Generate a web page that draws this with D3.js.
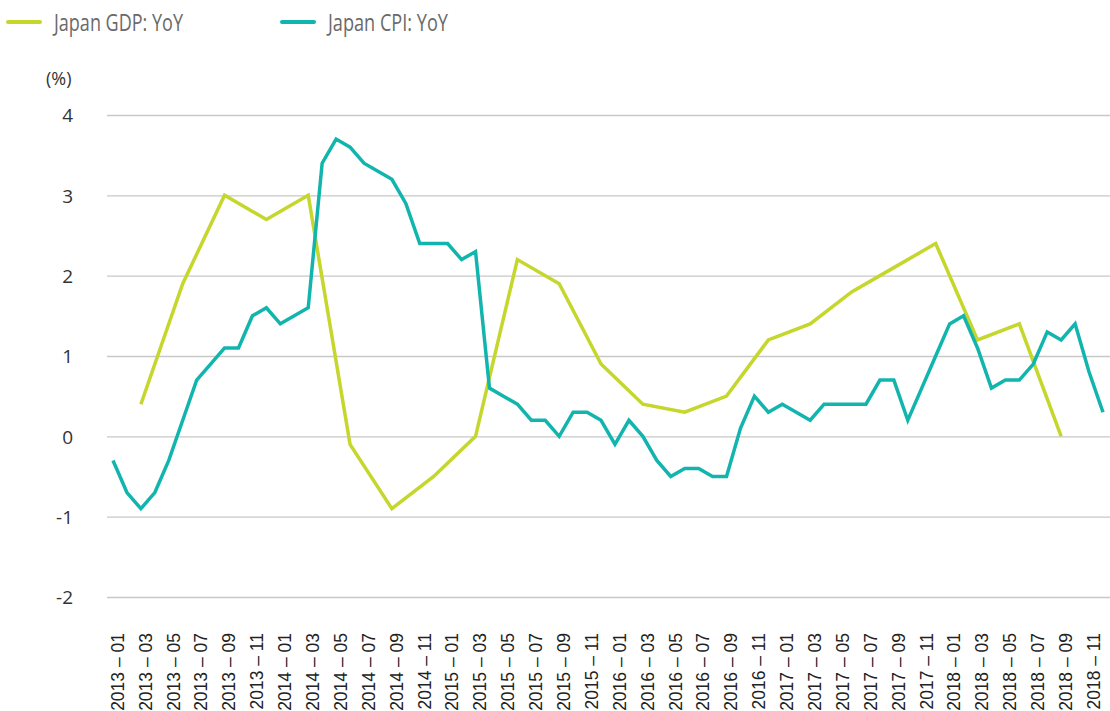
<!DOCTYPE html>
<html lang="en">
<head>
<meta charset="UTF-8">
<script src="https://d3js.org/d3.v7.min.js"></script>
<style>
body { margin:0; background:#fff; }
text { font-family: "Open Sans", sans-serif; }
</style>
<title>Japan GDP and CPI</title>
</head>
<body>
<script>
// monthly categories 2013-01 .. 2018-12
var years = [2013, 2014, 2015, 2016, 2017, 2018];
var months = [];
years.forEach(function(y) {
  for (var m = 1; m <= 12; m++) months.push(y + "-" + (m < 10 ? "0" + m : m));
});

// Japan CPI: YoY (%), monthly
var cpiValues = [
  -0.3, -0.7, -0.9, -0.7, -0.3, 0.2, 0.7, 0.9, 1.1, 1.1, 1.5, 1.6,
  1.4, 1.5, 1.6, 3.4, 3.7, 3.6, 3.4, 3.3, 3.2, 2.9, 2.4, 2.4,
  2.4, 2.2, 2.3, 0.6, 0.5, 0.4, 0.2, 0.2, 0.0, 0.3, 0.3, 0.2,
  -0.1, 0.2, 0.0, -0.3, -0.5, -0.4, -0.4, -0.5, -0.5, 0.1, 0.5, 0.3,
  0.4, 0.3, 0.2, 0.4, 0.4, 0.4, 0.4, 0.7, 0.7, 0.2, 0.6, 1.0,
  1.4, 1.5, 1.1, 0.6, 0.7, 0.7, 0.9, 1.3, 1.2, 1.4, 0.8, 0.3
];

// Japan GDP: YoY (%), quarterly
var gdpMonths = [
  "2013-03", "2013-06", "2013-09", "2013-12",
  "2014-03", "2014-06", "2014-09", "2014-12",
  "2015-03", "2015-06", "2015-09", "2015-12",
  "2016-03", "2016-06", "2016-09", "2016-12",
  "2017-03", "2017-06", "2017-09", "2017-12",
  "2018-03", "2018-06", "2018-09"
];
var gdpValues = [0.4, 1.9, 3.0, 2.7, 3.0, -0.1, -0.9, -0.5, 0.0, 2.2, 1.9, 0.9,
                 0.4, 0.3, 0.5, 1.2, 1.4, 1.8, 2.1, 2.4, 1.2, 1.4, 0.0];

var yTicks = [-2, -1, 0, 1, 2, 3, 4];

var cpiData = months.map(function(m, i) { return {m: m, v: cpiValues[i]}; });
var gdpData = gdpMonths.map(function(m, i) { return {m: m, v: gdpValues[i]}; });

var W = 1110, H = 711;
var gdpColor = "#c5d62c", cpiColor = "#12b5ae";

var svg = d3.select("body").append("svg")
    .attr("width", W)
    .attr("height", H);

var x = d3.scalePoint()
    .domain(months)
    .range([113, 1103]);

var y = d3.scaleLinear()
    .domain([-2, 4])
    .range([597, 115]);

// gridlines + y labels
var yAxis = svg.append("g")
    .attr("transform", "translate(107,0)")
    .call(d3.axisLeft(y).tickValues(yTicks).tickSize(-1003).tickPadding(34)
      .tickFormat(function(d) { return String(d); }));
yAxis.select(".domain").remove();
yAxis.selectAll(".tick line").attr("stroke", "#c8c8c8").attr("stroke-width", 1.3);
yAxis.selectAll(".tick text")
    .attr("fill", "#333")
    .style("font-size", "19px")
    .attr("dy", "0.36em");

svg.append("text")
    .attr("x", 46)
    .attr("y", 85)
    .attr("fill", "#333")
    .style("font-size", "18px")
    .text("(%)");

// x labels
var xAxis = svg.append("g")
    .attr("transform", "translate(4,620)")
    .call(d3.axisBottom(x)
      .tickValues(months.filter(function(m, i) { return i % 2 === 0; }))
      .tickSize(0)
      .tickFormat(function(m) { return m.replace("-", " \u2013 "); }));
xAxis.select(".domain").remove();
xAxis.selectAll(".tick text")
    .attr("fill", "#222")
    .style("font-family", "'Liberation Sans', Arial, sans-serif")
    .style("font-size", "17.5px")
    .attr("text-anchor", "end")
    .attr("transform", "rotate(-90)")
    .attr("x", -13)
    .attr("y", 0)
    .attr("dy", "0.36em");

var line = d3.line()
    .x(function(d) { return x(d.m); })
    .y(function(d) { return y(d.v); });

svg.append("path")
    .datum(gdpData)
    .attr("fill", "none")
    .attr("stroke", gdpColor)
    .attr("stroke-width", 3.5)
    .attr("d", line);

svg.append("path")
    .datum(cpiData)
    .attr("fill", "none")
    .attr("stroke", cpiColor)
    .attr("stroke-width", 3.5)
    .attr("d", line);

// legend
var legend = [
  {name: "Japan GDP: YoY", color: gdpColor, x: 8, w: 129},
  {name: "Japan CPI: YoY", color: cpiColor, x: 282, w: 120}
];
var lg = svg.selectAll(".legend").data(legend).enter().append("g")
    .attr("class", "legend")
    .attr("transform", function(d) { return "translate(" + d.x + ",0)"; });
lg.append("line")
    .attr("x1", 0).attr("x2", 32)
    .attr("y1", 22).attr("y2", 22)
    .attr("stroke", function(d) { return d.color; })
    .attr("stroke-width", 4)
    .attr("stroke-linecap", "round");
lg.append("text")
    .attr("x", 46)
    .attr("y", 31)
    .attr("fill", "#6a6a6a")
    .style("font-size", "23px")
    .attr("textLength", function(d) { return d.w; })
    .attr("lengthAdjust", "spacingAndGlyphs")
    .text(function(d) { return d.name; });
</script>
</body>
</html>
